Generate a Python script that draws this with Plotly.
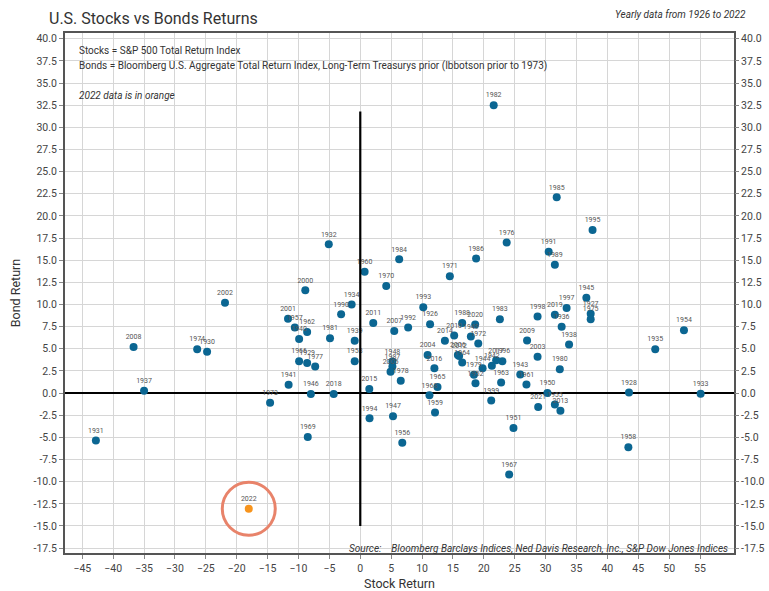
import plotly.graph_objects as go

years = [1926, 1927, 1928, 1929, 1930, 1931, 1932, 1933, 1934, 1935,
         1936, 1937, 1938, 1939, 1940, 1941, 1942, 1943, 1944, 1945,
         1946, 1947, 1948, 1949, 1950, 1951, 1952, 1953, 1954, 1955,
         1956, 1957, 1958, 1959, 1960, 1961, 1962, 1963, 1964, 1965,
         1966, 1967, 1968, 1969, 1970, 1971, 1972, 1973, 1974, 1975,
         1976, 1977, 1978, 1979, 1980, 1981, 1982, 1983, 1984, 1985,
         1986, 1987, 1988, 1989, 1990, 1991, 1992, 1993, 1994, 1995,
         1996, 1997, 1998, 1999, 2000, 2001, 2002, 2003, 2004, 2005,
         2006, 2007, 2008, 2009, 2010, 2011, 2012, 2013, 2014, 2015,
         2016, 2017, 2018, 2019, 2020, 2021]

stock_ret = [11.3, 37.3, 43.5, -8.6, -24.8, -42.8, -5.1, 55.1, -1.4, 47.75,
             32.6, -35.0, 33.8, -0.9, -9.9, -11.6, 21.3, 25.9, 19.8, 36.6,
             -8.0, 5.3, 5.2, 17.9, 30.3, 24.8, 18.65, -0.9, 52.4, 31.5,
             6.8, -10.6, 43.4, 12.1, 0.7, 26.9, -8.6, 22.8, 16.5, 12.5,
             -9.9, 24.1, 11.2, -8.5, 4.2, 14.5, 19.1, -14.6, -26.4, 37.3,
             23.7, -7.3, 6.55, 18.4, 32.3, -4.9, 21.6, 22.6, 6.3, 31.8,
             18.75, 5.2, 16.5, 31.5, -3.1, 30.5, 7.75, 10.2, 1.5, 37.6,
             23.0, 33.4, 28.7, 21.2, -8.9, -11.7, -21.9, 28.7, 10.9, 4.9,
             15.8, 5.5, -36.7, 27.0, 15.2, 2.1, 16.0, 32.4, 13.7, 1.46,
             12.0, 22.0, -4.3, 31.5, 18.6, 28.8]

bond_ret = [7.78, 8.95, 0.07, 3.4, 4.66, -5.35, 16.8, -0.08, 10.0, 4.96,
            7.5, 0.26, 5.5, 5.9, 6.1, 0.94, 3.1, 2.1, 2.8, 10.75,
            -0.1, -2.6, 3.56, 6.4, 0.0, -3.95, 1.1, 3.6, 7.1, -1.3,
            -5.6, 7.4, -6.1, -2.2, 13.7, 0.97, 6.9, 1.2, 3.45, 0.7,
            3.6, -9.2, -0.25, -4.95, 12.1, 13.2, 5.6, -1.1, 4.96, 8.35,
            17.0, 3.0, 1.4, 2.07, 2.7, 6.2, 32.5, 8.35, 15.1, 22.1,
            15.2, 3.0, 7.9, 14.5, 8.9, 15.95, 7.4, 9.7, -2.85, 18.4,
            3.6, 9.6, 8.65, -0.83, 11.6, 8.4, 10.2, 4.1, 4.3, 2.4,
            4.3, 7.0, 5.2, 5.95, 6.5, 7.9, 4.2, -2.0, 5.9, 0.45,
            2.8, 3.7, -0.1, 8.85, 7.75, -1.58]

hl_year = [2022]
hl_stock = [-18.05]
hl_bond = [-13.05]

x_ticks = list(range(-45, 60, 5))
y_ticks = [v * 2.5 for v in range(-7, 17)]
y_tick_text = [f"{v:.1f}" for v in y_ticks]

x_range = [-47.8, 60.5]
y_range = [-18.05, 40.65]
vline_span = [-15.0, 31.8]

W, H = 769, 591
ML, MR, MT, MB = 65, 35, 33, 38

FONT = "Roboto, Arial, sans-serif"
BLUE = "#0b6692"
ORANGE = "#f7941d"
RING = "#e8836a"
TXT = "#333333"

fig = go.Figure()

fig.add_trace(go.Scatter(
    x=stock_ret, y=bond_ret, text=[str(y) for y in years],
    mode="markers+text", textposition="top center",
    textfont=dict(size=7, color="#555555", family=FONT),
    marker=dict(size=8, color=BLUE), showlegend=False, hoverinfo="x+y+text"))

fig.add_trace(go.Scatter(
    x=hl_stock, y=hl_bond, mode="markers",
    marker=dict(size=53, color=RING, symbol="circle-open",
                line=dict(width=3, color=RING)),
    showlegend=False, hoverinfo="skip"))

fig.add_trace(go.Scatter(
    x=hl_stock, y=hl_bond, text=[str(y) for y in hl_year],
    mode="markers+text", textposition="top center",
    textfont=dict(size=7, color="#555555", family=FONT),
    marker=dict(size=8, color=ORANGE), showlegend=False))

# invisible trace to enable right-hand y axis
fig.add_trace(go.Scatter(
    x=hl_stock, y=hl_bond, yaxis="y2", mode="markers",
    marker=dict(size=1, color="rgba(0,0,0,0)"), showlegend=False,
    hoverinfo="skip"))

fig.add_shape(type="line", xref="x", yref="y", x0=0, x1=0,
              y0=vline_span[0], y1=vline_span[1],
              line=dict(color="black", width=2.2), layer="above")

tickfont = dict(size=10.5, color="#444444", family=FONT)

fig.update_layout(
    width=W, height=H,
    margin=dict(l=ML, r=MR, t=MT, b=MB, autoexpand=False),
    paper_bgcolor="white", plot_bgcolor="white",
    font=dict(family=FONT, color=TXT),
    xaxis=dict(range=x_range, tickvals=x_ticks, zeroline=False,
               showgrid=True, gridcolor="#d6d6d6", gridwidth=1,
               ticks="outside", ticklen=4, tickcolor="#888888",
               tickfont=tickfont, automargin=False,
               showline=True, mirror=True, linecolor="#555555", linewidth=2,
               title=dict(text="Stock Return", font=dict(size=12.5, color=TXT),
                          standoff=12)),
    yaxis=dict(range=y_range, tickvals=y_ticks, ticktext=y_tick_text,
               showgrid=True, gridcolor="#d6d6d6", gridwidth=1,
               ticks="outside", ticklen=4, tickcolor="#888888",
               tickfont=tickfont, automargin=False,
               zeroline=True, zerolinecolor="black", zerolinewidth=2.2,
               showline=True, mirror=True, linecolor="#555555", linewidth=2,
               title=dict(text="Bond Return", font=dict(size=12.5, color=TXT),
                          standoff=10)),
    yaxis2=dict(range=y_range, tickvals=y_ticks, ticktext=y_tick_text,
                overlaying="y", side="right", showgrid=False, zeroline=False,
                ticks="outside", ticklen=4, tickcolor="#888888",
                tickfont=tickfont, automargin=False),
)

pw, ph = W - ML - MR, H - MT - MB


def px2paper(px, py):
    return (px - ML) / pw, (H - MB - py) / ph


annots = [
    ("U.S. Stocks vs Bonds Returns", 47, 18, 16, "left"),
    ("<i>Yearly data from 1926 to 2022</i>", 748, 15, 10, "right"),
    ("Stocks = S&P 500 Total Return Index", 77, 51, 10, "left"),
    ("Bonds = Bloomberg U.S. Aggregate Total Return Index, Long-Term Treasurys prior (Ibbotson prior to 1973)",
     77, 66, 10, "left"),
    ("<i>2022 data is in orange</i>", 77, 95, 10, "left"),
    ("<i>Source:    Bloomberg Barclays Indices, Ned Davis Research, Inc., S&P Dow Jones Indices</i>",
     730, 548, 10, "right"),
]
for text, px, py, size, anchor in annots:
    ax, ay = px2paper(px, py)
    fig.add_annotation(
        text=text, xref="paper", yref="paper", x=ax, y=ay,
        xanchor=anchor, yanchor="middle", showarrow=False,
        font=dict(size=size, color=TXT, family=FONT))

fig.write_html("out.html",
               config={"displayModeBar": False},
               post_script="document.body.style.margin='0';"
                           "document.body.style.overflow='hidden';")
